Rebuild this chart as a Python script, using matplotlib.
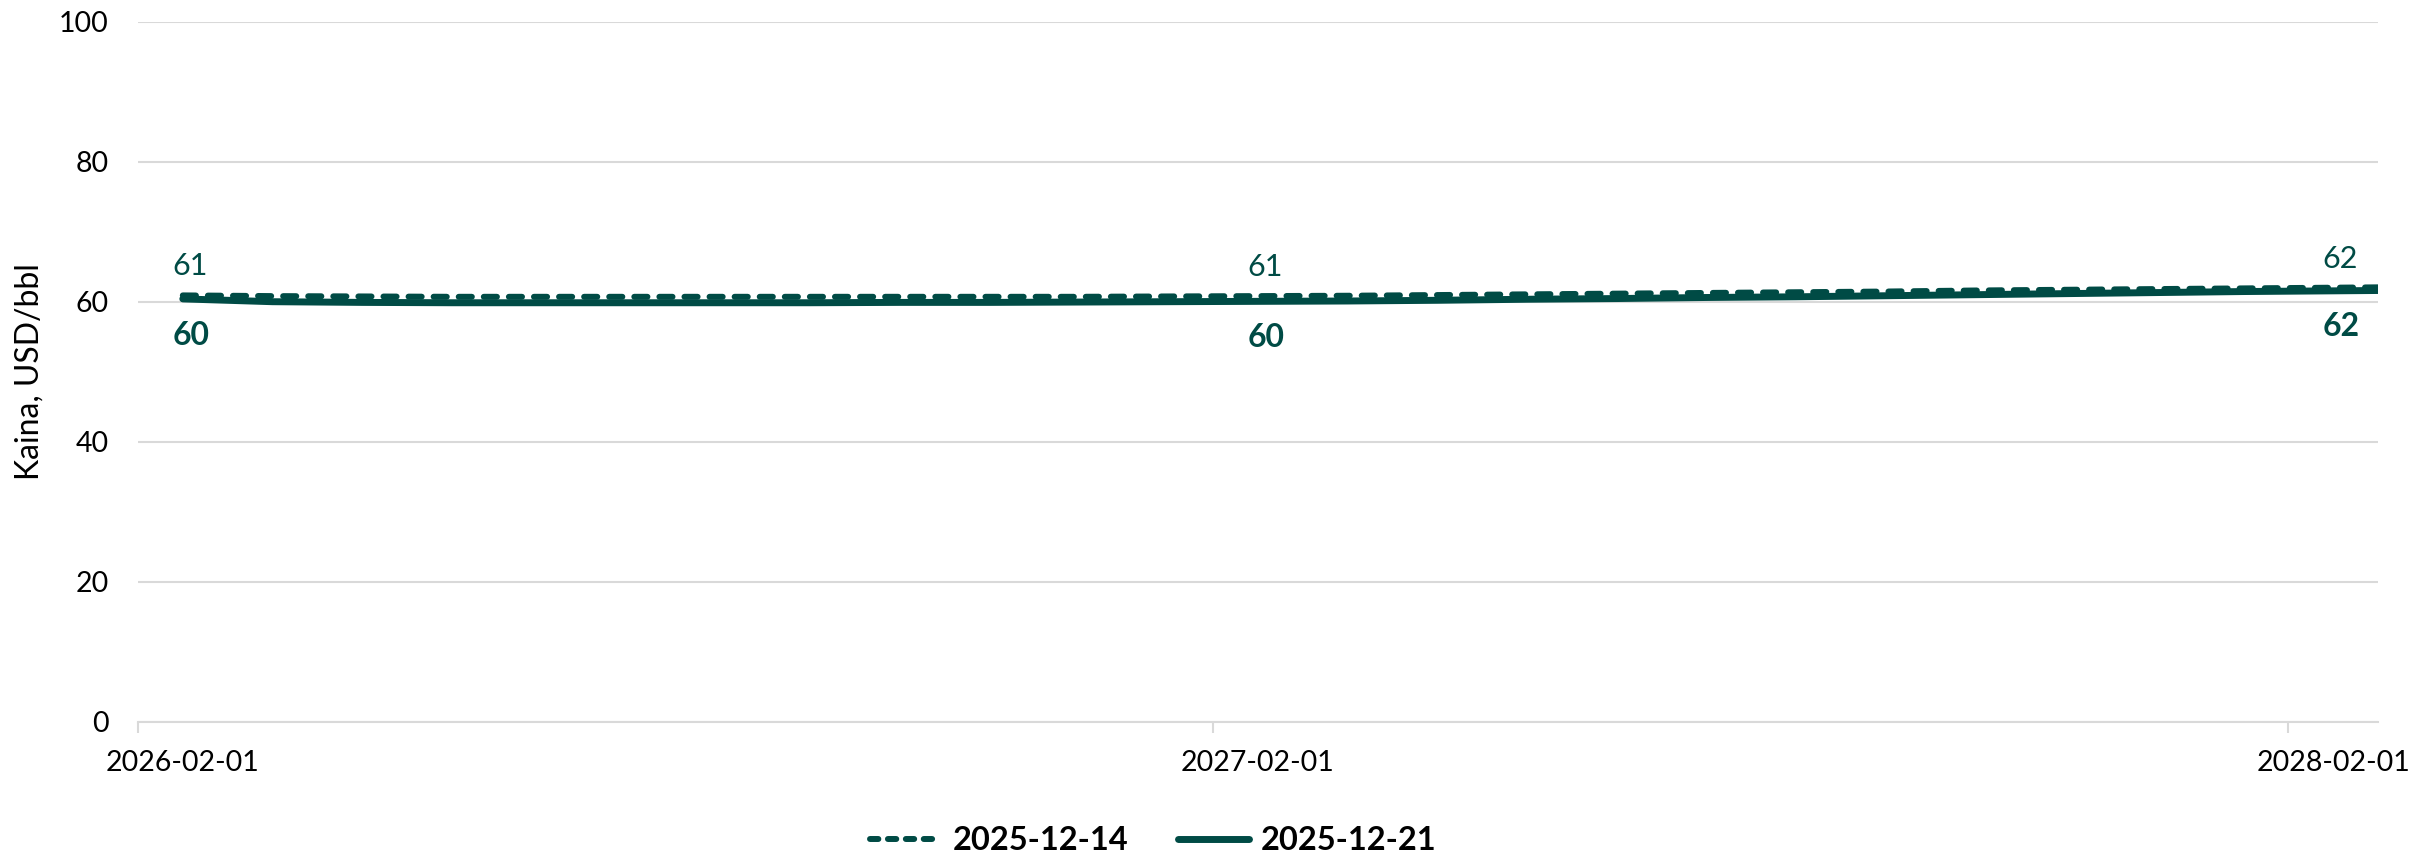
import matplotlib
matplotlib.use("Agg")
import matplotlib.pyplot as plt
from matplotlib.lines import Line2D

# ---- data -------------------------------------------------------------
months = ["2026-02-01", "2026-03-01", "2026-04-01", "2026-05-01", "2026-06-01",
          "2026-07-01", "2026-08-01", "2026-09-01", "2026-10-01", "2026-11-01",
          "2026-12-01", "2027-01-01", "2027-02-01", "2027-03-01", "2027-04-01",
          "2027-05-01", "2027-06-01", "2027-07-01", "2027-08-01", "2027-09-01",
          "2027-10-01", "2027-11-01", "2027-12-01", "2028-01-01", "2028-02-01",
          "2028-03-01"]
series_1214 = [60.9, 60.8, 60.75, 60.7, 60.7, 60.7, 60.7, 60.7, 60.7, 60.7,
               60.7, 60.75, 60.8, 60.85, 60.95, 61.05, 61.15, 61.25, 61.35, 61.45,
               61.6, 61.7, 61.8, 61.9, 62.0, 62.1]
series_1221 = [60.4, 60.0, 59.9, 59.85, 59.85, 59.85, 59.85, 59.85, 59.9, 59.9,
               59.95, 60.0, 60.05, 60.1, 60.2, 60.35, 60.45, 60.6, 60.7, 60.85,
               61.0, 61.15, 61.3, 61.45, 61.55, 61.65]
label_1214 = "2025-12-14"
label_1221 = "2025-12-21"
tick_labels = ["2026-02-01", "2027-02-01", "2028-02-01"]
label_months = ["2026-02-01", "2027-02-01", "2028-02-01"]
y_ticks = [0, 20, 40, 60, 80, 100]
y_label = "Kaina, USD/bbl"

# ---- style ------------------------------------------------------------
COL = "#004B45"
GRID = "#D9D9D9"
FONT = ["Lato", "DejaVu Sans"]
plt.rcParams["font.family"] = FONT

W, H = 2410, 858
fig = plt.figure(figsize=(W / 100, H / 100), dpi=100)
ax = fig.add_axes([138 / W, 1 - 722 / H, (2378 - 138) / W, (722 - 21.5) / H])

x = list(range(len(months)))

ax.plot(x, series_1214, color=COL, lw=4.3, linestyle=(0, (2.2, 2.0)),
        dash_capstyle="round", solid_capstyle="round", zorder=3)
ax.plot(x, series_1221, color=COL, lw=5.0, solid_capstyle="round", zorder=4)

# data labels
for m in label_months:
    i = months.index(m)
    ax.annotate(f"{series_1214[i]:.0f}", (i, series_1214[i]), xytext=(5, 21),
                textcoords="offset points", ha="center", va="center",
                color=COL, fontsize=22, zorder=5)
    ax.annotate(f"{series_1221[i]:.0f}", (i, series_1221[i]), xytext=(6, -26),
                textcoords="offset points", ha="center", va="center",
                color=COL, fontsize=23, fontweight="bold", zorder=5)

ax.set_xlim(-0.5, 24.5)
ax.set_ylim(0, 100)

ax.set_xticks([months.index(m) for m in label_months])
ax.set_xticklabels(tick_labels, fontsize=20.5)
ax.set_xticks([-0.5, 11.5, 23.5], minor=True)
ax.tick_params(axis="x", which="major", length=0, pad=20)
ax.tick_params(axis="x", which="minor", length=8, width=1.5, color=GRID)

ax.set_yticks(y_ticks)
ax.tick_params(axis="y", length=0, pad=21, labelsize=20.5)
ax.yaxis.grid(True, color=GRID, lw=1.5)
ax.set_axisbelow(True)

for s in ["top", "right", "left"]:
    ax.spines[s].set_visible(False)
ax.spines["bottom"].set_color(GRID)
ax.spines["bottom"].set_linewidth(1.5)

fig.text(30 / W, 1 - 372 / H, y_label, rotation=90, ha="center", va="center",
         fontsize=23, color="black",
         family=["Liberation Sans Narrow", "Lato", "DejaVu Sans"])

handles = [
    Line2D([0], [0], color=COL, lw=4.3, linestyle=(0, (1.4, 1.6)),
           dash_capstyle="round"),
    Line2D([0], [0], color=COL, lw=5.0, solid_capstyle="round"),
]
fig.legend(handles, [label_1214, label_1221], loc="center",
           bbox_to_anchor=(1153 / W, 1 - 841 / H), ncol=2, frameon=False,
           prop={"size": 23.5, "weight": "bold"}, handlelength=2.2,
           handletextpad=0.35, columnspacing=1.5)

fig.savefig("out.png", dpi=100)
